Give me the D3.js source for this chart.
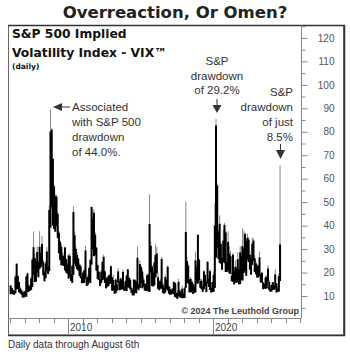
<!DOCTYPE html>
<html lang="en">
<head>
    <meta charset="UTF-8">
    <title>VIX</title>
    <style>
        body { margin: 0; background: #fff; }
        text { font-family: "Liberation Sans", Arial, sans-serif; }
    </style>
</head>
<body>
<script src="https://d3js.org/d3.v7.min.js"></script>
<script>
    // Monthly VIX figures, Jan 2006 .. Aug 2024 (Aug = through the 6th)
    const startYear = 2006;
    // intraday high of the month
    const vixHigh = [
        14.7, 14.0, 12.9, 12.5, 19.1, 23.8, 18.7, 16.0, 13.8, 12.8, 12.1, 12.4,
        12.3, 18.9, 20.1, 15.0, 15.0, 18.4, 26.5, 37.5, 28.0, 25.6, 31.1, 25.1,
        37.6, 29.3, 35.6, 25.5, 20.8, 24.8, 30.8, 24.0, 48.4, 89.5, 81.5, 68.6,
        57.4, 53.2, 53.2, 46.0, 37.7, 33.7, 32.2, 28.7, 28.0, 31.2, 25.9, 24.2,
        27.7, 28.3, 19.6, 23.5, 48.2, 37.6, 31.2, 28.8, 26.4, 23.8, 23.5, 19.4,
        20.7, 22.1, 31.3, 18.2, 19.3, 22.7, 26.0, 48.0, 46.9, 46.9, 37.2, 30.9,
        23.5, 20.8, 17.6, 21.1, 25.0, 27.7, 21.0, 18.0, 18.3, 19.1, 19.2, 23.0,
        18.3, 19.2, 14.5, 17.6, 16.7, 21.9, 16.9, 17.8, 17.5, 21.3, 14.4, 16.5,
        19.0, 21.5, 18.2, 17.6, 14.0, 12.9, 17.2, 17.2, 16.4, 31.1, 15.4, 25.2,
        22.9, 21.5, 18.2, 15.6, 15.5, 19.5, 19.8, 53.3, 33.2, 23.2, 21.0, 26.8,
        32.1, 30.9, 19.8, 16.8, 17.3, 26.7, 16.0, 14.0, 19.2, 17.4, 23.0, 14.4,
        14.0, 13.2, 13.4, 16.3, 15.9, 15.2, 12.5, 17.3, 12.9, 11.9, 14.5, 11.6,
        14.0, 50.3, 26.6, 23.9, 17.4, 18.1, 16.8, 15.8, 14.8, 28.8, 23.8, 36.2,
        25.9, 17.4, 17.3, 14.3, 21.0, 19.4, 16.6, 24.8, 18.6, 21.5, 14.1, 16.0,
        20.4, 49.5, 85.5, 58.0, 38.3, 44.4, 33.0, 26.7, 38.3, 41.2, 38.0, 26.0,
        37.5, 31.2, 29.2, 19.8, 28.4, 21.8, 25.1, 22.2, 28.8, 22.1, 31.1, 31.4,
        38.9, 37.8, 37.0, 34.0, 36.6, 35.1, 28.9, 27.7, 34.9, 34.5, 27.3, 25.0,
        23.8, 23.5, 29.0, 19.7, 20.0, 16.1, 15.5, 18.8, 18.7, 23.1, 16.7, 14.3,
        15.0, 16.0, 14.9, 21.4, 15.5, 13.7, 19.4, 65.7
    ];
    // highest daily close of the month
    const vixCloseHigh = [
        14.5, 13.4, 12.4, 12.1, 18.2, 23.8, 18.6, 15.9, 13.2, 12.4, 11.5, 11.6,
        12.0, 18.3, 19.6, 14.3, 14.4, 17.5, 25.5, 30.8, 26.2, 24.8, 28.8, 24.3,
        31.0, 28.2, 32.2, 24.6, 20.1, 23.9, 29.0, 22.6, 46.7, 80.1, 80.9, 68.5,
        56.7, 52.6, 52.3, 45.0, 37.0, 33.1, 30.9, 27.2, 26.9, 30.7, 25.7, 23.4,
        27.3, 27.0, 19.1, 22.8, 45.8, 35.9, 30.1, 27.5, 25.9, 23.3, 22.6, 18.0,
        20.0, 21.0, 29.4, 17.3, 18.2, 21.9, 25.3, 48.0, 43.0, 45.5, 36.2, 30.6,
        23.2, 20.3, 17.1, 20.4, 24.5, 26.7, 20.5, 17.8, 17.5, 18.6, 18.9, 22.7,
        18.0, 16.8, 14.4, 17.0, 15.0, 20.5, 16.2, 17.5, 17.0, 20.3, 14.0, 16.3,
        18.7, 21.4, 17.8, 17.0, 13.4, 12.6, 17.0, 16.7, 16.3, 26.3, 14.9, 23.6,
        22.4, 20.4, 17.0, 15.3, 15.0, 18.9, 19.0, 40.7, 31.4, 22.6, 20.0, 24.4,
        27.6, 28.1, 18.0, 16.2, 16.3, 25.8, 14.9, 13.5, 18.1, 17.1, 22.5, 14.1,
        12.9, 12.5, 13.1, 16.0, 15.6, 11.4, 11.2, 16.0, 12.3, 11.4, 13.1, 11.0,
        13.5, 37.3, 24.9, 23.0, 17.1, 17.3, 16.1, 15.0, 14.1, 25.2, 22.5, 36.1,
        25.5, 16.4, 16.5, 14.0, 20.5, 18.9, 16.1, 24.6, 17.3, 20.6, 13.4, 16.0,
        19.0, 40.1, 82.7, 57.1, 37.2, 40.8, 32.2, 26.4, 33.6, 40.3, 37.1, 24.7,
        33.1, 28.0, 27.0, 18.7, 27.6, 20.7, 22.5, 21.7, 25.7, 21.3, 28.6, 27.2,
        31.2, 30.3, 36.5, 33.4, 34.8, 34.0, 27.5, 25.9, 32.3, 33.6, 26.1, 23.9,
        22.9, 22.9, 26.5, 19.1, 20.0, 15.7, 15.0, 17.9, 18.0, 21.7, 16.0, 13.1,
        14.8, 15.9, 14.4, 19.2, 15.4, 13.2, 18.5, 32.0
    ];
    // lowest level of the month
    const vixLow = [
        10.8, 11.0, 10.7, 10.6, 11.2, 12.9, 12.9, 11.6, 11.2, 10.6, 9.4, 9.4,
        9.9, 9.7, 11.7, 11.9, 12.2, 12.6, 13.9, 19.1, 16.0, 16.1, 20.0, 18.0,
        21.5, 22.3, 23.5, 18.9, 16.3, 17.6, 20.9, 19.4, 20.6, 39.2, 47.9, 40.0,
        38.6, 37.4, 39.7, 34.7, 28.2, 25.3, 23.1, 23.1, 22.8, 20.9, 20.0, 19.5,
        17.4, 18.4, 16.4, 15.6, 19.0, 23.9, 22.7, 21.5, 20.8, 18.6, 17.6, 15.5,
        15.5, 15.6, 17.2, 14.3, 14.8, 16.1, 15.5, 23.4, 29.9, 27.0, 27.5, 20.8,
        17.3, 16.8, 14.3, 15.5, 16.8, 17.1, 15.6, 13.3, 13.9, 14.3, 15.2, 15.4,
        12.3, 12.4, 11.0, 11.2, 12.3, 15.5, 12.5, 12.6, 13.0, 12.8, 12.2, 12.5,
        12.1, 13.6, 13.6, 12.8, 11.4, 10.3, 10.3, 11.5, 11.2, 13.0, 12.5, 13.5,
        15.5, 13.3, 14.0, 12.4, 12.1, 12.4, 12.0, 11.8, 20.1, 14.3, 14.1, 14.6,
        18.0, 19.7, 13.1, 12.5, 13.1, 13.2, 11.3, 11.0, 11.5, 12.9, 12.4, 11.0,
        10.6, 10.7, 11.0, 10.8, 9.6, 9.4, 8.8, 9.9, 9.5, 9.2, 9.1, 9.1,
        9.2, 13.5, 15.8, 15.3, 11.6, 11.6, 11.6, 10.9, 11.3, 11.6, 15.4, 15.3,
        16.6, 13.5, 12.9, 11.8, 12.9, 14.3, 11.7, 15.4, 13.9, 12.6, 11.5, 11.7,
        11.8, 13.4, 26.4, 30.5, 25.8, 24.1, 23.8, 21.2, 24.5, 24.0, 20.3, 20.3,
        21.1, 19.7, 19.4, 16.3, 16.1, 15.0, 15.8, 15.7, 15.9, 15.0, 15.1, 16.9,
        16.6, 19.9, 20.6, 18.6, 25.5, 24.5, 21.3, 19.1, 23.3, 25.1, 20.3, 19.3,
        17.9, 17.9, 18.5, 15.8, 15.6, 12.9, 13.3, 13.0, 13.3, 16.1, 12.5, 11.8,
        12.0, 12.6, 12.7, 13.2, 11.5, 11.9, 11.9, 16.4
    ];

    const yTicks = [10, 20, 30, 40, 50, 60, 70, 80, 90, 100, 110, 120];
    const yearTicks = d3.range(2006, 2027);
    const yearLabels = [2010, 2020];

    const notes44 = ["Associated", "with S&P 500", "drawdown", "of 44.0%."];
    const notes29 = ["S&P", "drawdown", "of 29.2%"];
    const notes85 = ["S&P", "drawdown", "of just", "8.5%"];

    const width = 350;
    const height = 352;
    const plotRight = 301;
    const plotBottom = 318;

    const svg = d3.select("body")
        .append("svg")
        .attr("width", width)
        .attr("height", height);

    // scales
    const x = d3.scaleLinear().domain([2006, 2026]).range([10, 300]);
    const y = d3.scaleLinear().domain([0, 125.5]).range([319.5, 25]);

    // title
    svg.append("text")
        .attr("x", 175).attr("y", 18)
        .attr("text-anchor", "middle")
        .style("font-family", "'DejaVu Sans', sans-serif")
        .style("font-weight", "bold")
        .style("font-size", "16.5px")
        .attr("fill", "#222")
        .text("Overreaction, Or Omen?");

    // frame
    svg.append("rect")
        .attr("x", 8.5).attr("y", 25.5)
        .attr("width", 335).attr("height", 309.5)
        .attr("fill", "#fff")
        .attr("stroke", "#666");
    svg.append("path")
        .attr("d", "M8,25.5H344.5V335.5H8")
        .attr("fill", "none")
        .attr("stroke", "#333")
        .attr("stroke-width", 1.5);

    // inner plot box
    svg.append("path")
        .attr("d", `M8,${plotBottom + 0.5}H${plotRight + 0.5}V25`)
        .attr("fill", "none")
        .attr("stroke", "#888");

    // x axis ticks & year dividers
    svg.append("g")
        .selectAll("line")
        .data(yearTicks)
        .join("line")
        .attr("x1", d => Math.round(x(d)) + 0.5)
        .attr("x2", d => Math.round(x(d)) + 0.5)
        .attr("y1", plotBottom)
        .attr("y2", d => yearLabels.includes(d) ? 335 : plotBottom + 5)
        .attr("stroke", "#888");
    svg.append("g")
        .selectAll("text")
        .data(yearLabels)
        .join("text")
        .attr("x", d => x(d) + 2)
        .attr("y", 331)
        .style("font-size", "10px")
        .attr("fill", "#444")
        .text(d => d);

    // y axis on the right
    const yAxis = svg.append("g")
        .attr("transform", `translate(${plotRight + 0.5},0)`)
        .call(d3.axisRight(y).tickValues(yTicks).tickSize(6).tickSizeOuter(0));
    yAxis.select(".domain").remove();
    yAxis.selectAll(".tick line").attr("stroke", "#888");
    yAxis.selectAll(".tick text")
        .attr("x", 33)
        .attr("text-anchor", "end")
        .style("font-family", "'Liberation Sans', Arial, sans-serif")
        .style("font-size", "10px")
        .attr("fill", "#555");
    svg.append("g")
        .attr("transform", `translate(${plotRight + 0.5},0)`)
        .call(d3.axisRight(y).tickValues(d3.range(5, 126, 10)).tickSize(4).tickFormat(""))
        .call(g => g.select(".domain").remove())
        .selectAll(".tick line").attr("stroke", "#888");

    // data: gray range lines + black close bands
    const months = vixHigh.map((h, i) => ({
        t: startYear + (i + 0.5) / 12,
        hi: h,
        cHi: vixCloseHigh[i],
        lo: vixLow[i]
    }));
    const bars = svg.append("g");
    bars.selectAll("line")
        .data(months)
        .join("line")
        .attr("x1", d => x(d.t))
        .attr("x2", d => x(d.t))
        .attr("y1", d => y(d.lo))
        .attr("y2", d => y(d.hi))
        .attr("stroke", "#888")
        .attr("stroke-width", 1);
    bars.selectAll("rect")
        .data(months)
        .join("rect")
        .attr("x", d => x(d.t) - 1)
        .attr("width", 2)
        .attr("y", d => y(d.cHi))
        .attr("height", d => y(d.lo) - y(d.cHi))
        .attr("fill", "#000");

    // subtitle
    svg.append("text")
        .attr("x", 12).attr("y", 38)
        .style("font-family", "'DejaVu Sans', sans-serif")
        .style("font-weight", "bold")
        .style("font-size", "12.3px")
        .attr("fill", "#111")
        .text("S&P 500 Implied");
    svg.append("text")
        .attr("x", 12).attr("y", 57)
        .style("font-family", "'DejaVu Sans', sans-serif")
        .style("font-weight", "bold")
        .style("font-size", "12.3px")
        .attr("fill", "#111")
        .text("Volatility Index - VIX™");
    svg.append("text")
        .attr("x", 12).attr("y", 69)
        .style("font-family", "'DejaVu Sans', sans-serif")
        .style("font-weight", "bold")
        .style("font-size", "7.5px")
        .attr("fill", "#111")
        .text("(daily)");

    // annotation: 2008
    const a1 = svg.append("g").attr("fill", "#333");
    a1.append("path").attr("d", "M53,107L62,103L62,111Z");
    a1.append("line").attr("x1", 62).attr("x2", 70).attr("y1", 107).attr("y2", 107)
        .attr("stroke", "#333");
    a1.selectAll("text")
        .data(notes44)
        .join("text")
        .attr("x", 72)
        .attr("y", (d, i) => 111 + i * 15)
        .style("font-size", "11.5px")
        .text(d => d);

    // annotation: 2020
    const a2 = svg.append("g").attr("fill", "#333");
    a2.selectAll("text")
        .data(notes29)
        .join("text")
        .attr("x", 217)
        .attr("y", (d, i) => 65 + i * 14.5)
        .attr("text-anchor", "middle")
        .style("font-size", "11.5px")
        .text(d => d);
    a2.append("line").attr("x1", 217).attr("x2", 217).attr("y1", 99).attr("y2", 105)
        .attr("stroke", "#333");
    a2.append("path").attr("d", "M212.5,105L221.5,105L217,113Z");

    // annotation: 2024
    const a3 = svg.append("g").attr("fill", "#333");
    a3.selectAll("text")
        .data(notes85)
        .join("text")
        .attr("x", 293)
        .attr("y", (d, i) => 96 + i * 15)
        .attr("text-anchor", "end")
        .style("font-size", "11.5px")
        .text(d => d);
    a3.append("line").attr("x1", 280.5).attr("x2", 280.5).attr("y1", 144).attr("y2", 150)
        .attr("stroke", "#333");
    a3.append("path").attr("d", "M276,150L285,150L280.5,159Z");

    // copyright
    svg.append("text")
        .attr("x", 299).attr("y", 314)
        .attr("text-anchor", "end")
        .style("font-weight", "bold")
        .style("font-size", "9px")
        .attr("fill", "#444")
        .text("© 2024 The Leuthold Group");

    // footnote
    svg.append("text")
        .attr("x", 8).attr("y", 348)
        .style("font-size", "10px")
        .attr("fill", "#333")
        .text("Daily data through August 6th");
</script>
</body>
</html>
